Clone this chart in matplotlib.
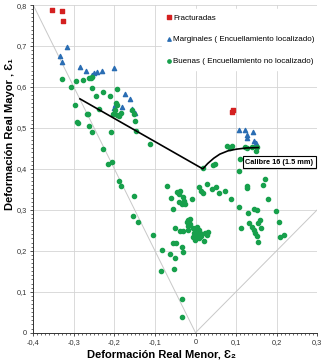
import matplotlib
matplotlib.use("Agg")
import matplotlib.pyplot as plt
from matplotlib.ticker import MultipleLocator, FuncFormatter

plt.rcParams['font.family'] = ['Liberation Sans', 'DejaVu Sans']

# Fracturadas
frac_x = [-0.355, -0.328, -0.327, 0.089, 0.092]
frac_y = [0.789, 0.786, 0.760, 0.538, 0.543]

# Marginales ( Encuellamiento localizado)
marg_x = [-0.316, -0.335, -0.330, -0.286, -0.270, -0.255, -0.250, -0.244, -0.230,
          -0.201, -0.174, -0.162, -0.182, -0.201, -0.199, -0.156, -0.149,
          0.108, 0.123, 0.126, 0.128, 0.142, 0.145, 0.148]
marg_y = [0.698, 0.675, 0.661, 0.649, 0.640, 0.630, 0.634, 0.636, 0.639,
          0.647, 0.583, 0.570, 0.552, 0.548, 0.556, 0.547, 0.537,
          0.496, 0.495, 0.476, 0.482, 0.489, 0.468, 0.464]

# Buenas ( Encuellamiento no localizado)
buen_x = [-0.3285, -0.3063, -0.294, -0.2784, -0.262, -0.258, -0.254, -0.2546, -0.2463,
          -0.2283, -0.210, -0.193, -0.2973, -0.2644, -0.2685, -0.2932, -0.2907, -0.262,
          -0.254, -0.196, -0.1946, -0.1987, -0.2028, -0.1946, -0.188, -0.183, -0.2373,
          -0.2077, -0.156, -0.1518, -0.1486, -0.1477, -0.1132, -0.229, -0.215, -0.2069,
          -0.188, -0.1847, -0.1518, -0.1535, -0.1428, -0.1042, -0.0837, -0.0861, -0.0343,
          -0.0343,
          -0.0713, -0.0615, -0.045, -0.0384, -0.040, -0.0319, -0.040, -0.0343, -0.0286,
          -0.026, -0.0565, -0.008, 0.0092, 0.0125, 0.019, 0.0273, 0.0396, 0.0503, 0.0585,
          0.0725, 0.0864, 0.019, 0.0437, 0.0478, -0.0508, -0.0384, -0.0319, -0.0549,
          -0.0483, -0.0343, -0.0319, -0.0631, -0.050, -0.0532, -0.022, -0.0179, -0.0138,
          -0.0179, -0.0138, -0.0196,
          -0.0056, -0.0015, 0.0026, 0.0067, -0.0031, 0.001, 0.0043, 0.0092, 0.0108,
          -0.0072, -0.0015, 0.0133, 0.0207, 0.0273, 0.0314, 0.0232, 0.0026, 0.0075,
          0.0782, 0.0848, 0.0905, 0.1218, 0.1275, 0.1398, 0.1505, 0.1489, 0.1094, 0.1078,
          0.1259, 0.1275, 0.1653, 0.171, 0.1776, 0.1062, 0.130, 0.144, 0.1505, 0.1982,
          0.111, 0.1308, 0.1382, 0.153, 0.1588, 0.1612, 0.1464, 0.144, 0.1522, 0.1546,
          0.2064, 0.208, 0.2179]
buen_y = [0.619, 0.600, 0.615, 0.618, 0.621, 0.623, 0.625, 0.598, 0.578,
          0.587, 0.579, 0.596, 0.557, 0.535, 0.533, 0.515, 0.511, 0.504,
          0.491, 0.561, 0.556, 0.5435, 0.533, 0.531, 0.529, 0.537, 0.545,
          0.491, 0.5435, 0.535, 0.516, 0.492, 0.460, 0.4475, 0.413, 0.417,
          0.371, 0.359, 0.334, 0.285, 0.271, 0.2376, 0.2018, 0.1513, 0.0814,
          0.039,
          0.358, 0.328, 0.344, 0.3466, 0.3377, 0.332, 0.320, 0.314, 0.322,
          0.314, 0.301, 0.3255, 0.3548, 0.3466, 0.3417, 0.362, 0.350, 0.3564, 0.3417,
          0.3466, 0.3255, 0.403, 0.409, 0.4125, 0.2547, 0.248, 0.248, 0.218,
          0.2197, 0.210, 0.1977, 0.192, 0.1814, 0.1546, 0.271, 0.275, 0.2775,
          0.260, 0.265, 0.2506,
          0.2547, 0.2506, 0.2465, 0.2425, 0.2425, 0.2384, 0.2343, 0.2506, 0.2425,
          0.2343, 0.2262, 0.236, 0.2246, 0.2384, 0.2465, 0.2425, 0.2587, 0.2303,
          0.4565, 0.4516, 0.4557, 0.454, 0.450, 0.454, 0.454, 0.4435, 0.423, 0.3955,
          0.358, 0.3523, 0.3605, 0.3743, 0.327, 0.306, 0.293, 0.301, 0.2994, 0.2978,
          0.2563, 0.2669, 0.2587, 0.2685, 0.275, 0.2547, 0.2425, 0.2506, 0.236, 0.2221,
          0.271, 0.2343, 0.2392]

# Curva limite de conformado, calibre 16
flc_x = [-0.285, 0.018, 0.03, 0.045, 0.06, 0.08, 0.10, 0.125, 0.155]
flc_y = [0.571, 0.400, 0.413, 0.426, 0.436, 0.444, 0.448, 0.451, 0.452]

fig = plt.figure(figsize=(3.23, 3.62), dpi=100)
ax = fig.add_axes([0.103, 0.081, 0.879, 0.905])

ax.plot([-0.4, 0], [0.8, 0], color='#c8c8c8', lw=0.7, zorder=1)
ax.plot([0, 0.3], [0, 0.3], color='#c8c8c8', lw=0.7, zorder=1)

ax.scatter(frac_x, frac_y, marker='s', s=10, color='#d42020', label='Fracturadas', zorder=3)
ax.scatter(marg_x, marg_y, marker='^', s=9, color='#2a6db3',
           label='Marginales ( Encuellamiento localizado)', zorder=3)
ax.scatter(buen_x, buen_y, marker='o', s=9, color='#17a04c',
           label='Buenas ( Encuellamiento no localizado)', zorder=3)
ax.plot(flc_x, flc_y, color='black', lw=1.2, zorder=4)

ax.text(0.207, 0.4166, 'Calibre 16 (1.5 mm)', fontsize=5.3, fontweight='bold',
        ha='center', va='center', zorder=5,
        bbox=dict(boxstyle='square,pad=0.3', fc='white', ec='black', lw=0.8))

ax.set_xlim(-0.4, 0.3)
ax.set_ylim(0, 0.8)
ax.xaxis.set_major_locator(MultipleLocator(0.1))
ax.yaxis.set_major_locator(MultipleLocator(0.1))
ax.xaxis.set_minor_locator(MultipleLocator(0.01))
ax.yaxis.set_minor_locator(MultipleLocator(0.01))
fmt = FuncFormatter(lambda v, p: ('%g' % round(v, 2)).replace('.', ','))
ax.xaxis.set_major_formatter(fmt)
ax.yaxis.set_major_formatter(fmt)
ax.tick_params(which='major', labelsize=5.3, length=2.5, width=0.6, colors='#333333', pad=2)
ax.tick_params(which='minor', length=1.2, width=0.5, colors='#333333')
ax.grid(True, which='major', color='#d4d4d4', lw=0.6, zorder=0)
ax.set_axisbelow(True)
for s in ['top', 'right']:
    ax.spines[s].set_visible(False)
for s in ['left', 'bottom']:
    ax.spines[s].set_color('#333333')
    ax.spines[s].set_linewidth(0.7)

fig.text(0.5, 0.022, 'Deformación Real Menor, Ɛ₂', fontsize=8, fontweight='bold',
         ha='center', va='center')
fig.text(0.03, 0.63, 'Deformación Real Mayor , Ɛ₁', fontsize=8, fontweight='bold',
         ha='center', va='center', rotation=90)

leg = ax.legend(loc='upper left', bbox_to_anchor=(0.44, 1.0), fontsize=5.8, frameon=True,
                facecolor='white', edgecolor='white', framealpha=1, labelspacing=1.75,
                handlelength=0.6, handletextpad=0.2, borderpad=0.6, markerscale=0.8)

fig.savefig('out.png', dpi=100)
